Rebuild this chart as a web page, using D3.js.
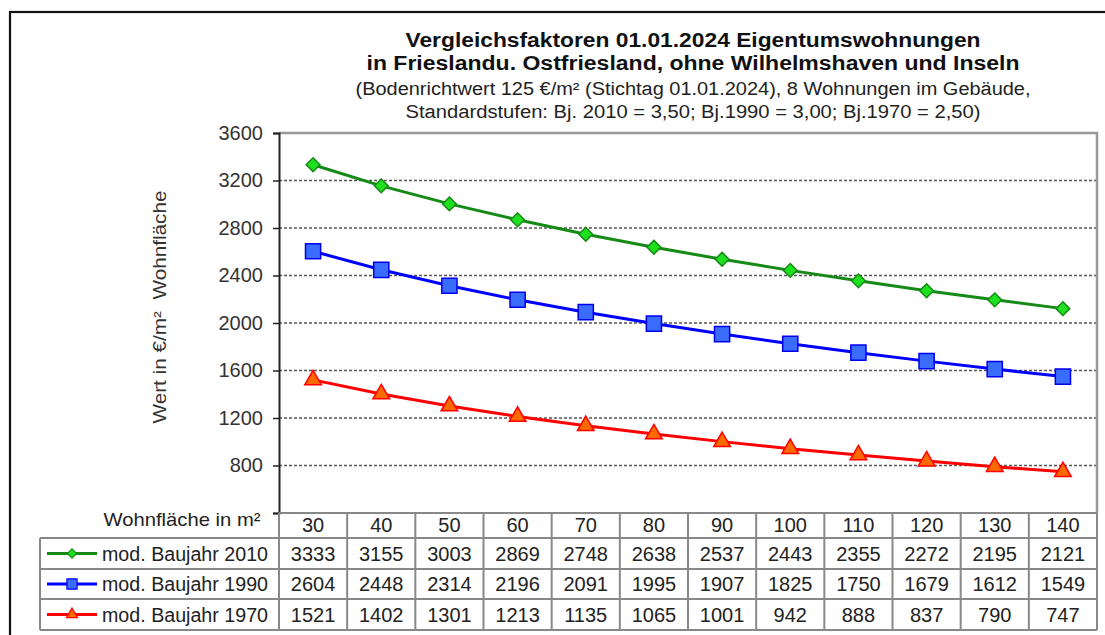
<!DOCTYPE html>
<html><head><meta charset="utf-8">
<script src="https://cdn.jsdelivr.net/npm/d3@7"></script>
<style>html,body{margin:0;padding:0;background:#fff;}svg{display:block;font-family:"Liberation Sans",Arial,sans-serif;}</style>
</head><body>
<script>
const categories = [30,40,50,60,70,80,90,100,110,120,130,140];
const bj2010 = [3333,3155,3003,2869,2748,2638,2537,2443,2355,2272,2195,2121];
const bj1990 = [2604,2448,2314,2196,2091,1995,1907,1825,1750,1679,1612,1549];
const bj1970 = [1521,1402,1301,1213,1135,1065,1001,942,888,837,790,747];
const seriesNames = ["mod. Baujahr 2010","mod. Baujahr 1990","mod. Baujahr 1970"];
const yTicks = [400,800,1200,1600,2000,2400,2800,3200,3600];
const titleLines = ["Vergleichsfaktoren 01.01.2024 Eigentumswohnungen","in Frieslandu. Ostfriesland, ohne Wilhelmshaven und Inseln"];
const subtitleLines = ["(Bodenrichtwert 125 €/m² (Stichtag 01.01.2024), 8 Wohnungen im Gebäude,","Standardstufen:  Bj. 2010 = 3,50; Bj.1990 = 3,00; Bj.1970 = 2,50)"];

const W=1105,H=635;
const svg=d3.select("body").append("svg").attr("width",W).attr("height",H);
svg.append("rect").attr("width",W).attr("height",H).attr("fill","#fff");
// outer frame
svg.append("rect").attr("x",10).attr("y",12).attr("width",1200).attr("height",700)
  .attr("fill","none").attr("stroke","#111").attr("stroke-width",2.2);

const L=279,R=1097,T=133,B=513;
const x=d3.scaleBand().domain(categories).range([L,R]);
const y=d3.scaleLinear().domain([400,3600]).range([B,T]);

// titles
const tg=svg.append("g").attr("text-anchor","middle").attr("fill","#111");
const titleLen=[575,653], subLen=[675,575];
tg.selectAll("text.t").data(titleLines).join("text").attr("class","t")
  .attr("x",693).attr("y",(d,i)=>47+i*23).attr("font-size",20).attr("font-weight","bold")
  .attr("textLength",(d,i)=>titleLen[i]).attr("lengthAdjust","spacingAndGlyphs").text(d=>d);
tg.selectAll("text.s").data(subtitleLines).join("text").attr("class","s")
  .attr("x",693).attr("y",(d,i)=>95+i*23).attr("font-size",18).attr("fill","#222")
  .attr("textLength",(d,i)=>subLen[i]).attr("lengthAdjust","spacingAndGlyphs").text(d=>d);

// gridlines
svg.append("g").selectAll("line").data(yTicks.filter(v=>v>400&&v<3600)).join("line")
  .attr("x1",L).attr("x2",R).attr("y1",d=>y(d)).attr("y2",d=>y(d))
  .attr("stroke","#555").attr("stroke-width",1.5).attr("stroke-dasharray","3,2");
// plot frame top/right
svg.append("path").attr("d",`M${L},${T}H${R}V${B}`).attr("fill","none").attr("stroke","#999").attr("stroke-width",2.5);

// y axis
const ya=d3.axisLeft(y).tickValues(yTicks).tickSize(6).tickFormat(d=>d===400?"":d);
const yg=svg.append("g").attr("transform",`translate(${L},0)`).call(ya);
yg.select(".domain").attr("stroke","#222").attr("stroke-width",2);
yg.selectAll(".tick line").attr("stroke","#222").attr("stroke-width",1.5);
yg.selectAll(".tick text").attr("font-size",20).attr("fill","#333").attr("x",-16)
  .attr("font-family","Liberation Sans, Arial, sans-serif");

svg.append("text").attr("transform",`translate(166,307) rotate(-90)`).attr("text-anchor","middle")
  .attr("font-size",18).attr("fill","#333").attr("xml:space","preserve")
  .attr("textLength",233).attr("lengthAdjust","spacingAndGlyphs").text("Wert in €/m²  Wohnfläche");

// custom diamond (square rotated)
const diamond={draw(ctx,size){const r=Math.sqrt(size/2);ctx.moveTo(0,-r);ctx.lineTo(r,0);ctx.lineTo(0,r);ctx.lineTo(-r,0);ctx.closePath();}};
// series
const series=[
  {name:seriesNames[0],vals:bj2010,line:"#168a16",fill:"#1ee01e",stroke:"#168a16",shape:diamond,size:95},
  {name:seriesNames[1],vals:bj1990,line:"#0000ff",fill:"#3a6cff",stroke:"#0000ee",shape:d3.symbolSquare,size:230},
  {name:seriesNames[2],vals:bj1970,line:"#ff0000",fill:"#ff6a00",stroke:"#ff0000",shape:d3.symbolTriangle,size:120},
];
const cx=c=>x(c)+x.bandwidth()/2;
const lineGen=d3.line().x((d,i)=>cx(categories[i])).y(d=>y(d));
series.forEach(s=>{
  svg.append("path").attr("d",lineGen(s.vals)).attr("fill","none").attr("stroke",s.line).attr("stroke-width",3);
  svg.append("g").selectAll("path").data(s.vals).join("path")
    .attr("transform",(d,i)=>`translate(${cx(categories[i])},${y(d)})`)
    .attr("d",d3.symbol().type(s.shape).size(s.size)).attr("fill",s.fill).attr("stroke",s.stroke).attr("stroke-width",1.5);
});

// table
const rowsY=[513,538,569,599,630];
const tb=svg.append("g");
const gridC="#888";
tb.append("text").attr("x",182).attr("y",526).attr("text-anchor","middle").attr("font-size",19).attr("fill","#222")
  .attr("textLength",157).attr("lengthAdjust","spacingAndGlyphs").text("Wohnfläche in m²");
tb.append("line").attr("x1",L).attr("x2",R).attr("y1",rowsY[0]).attr("y2",rowsY[0]).attr("stroke",gridC).attr("stroke-width",2);
rowsY.slice(1).forEach(yy=>tb.append("line").attr("x1",40).attr("x2",R).attr("y1",yy).attr("y2",yy).attr("stroke",gridC).attr("stroke-width",2));
tb.append("line").attr("x1",40).attr("x2",40).attr("y1",rowsY[1]).attr("y2",rowsY[4]).attr("stroke",gridC).attr("stroke-width",2);
categories.forEach(c=>tb.append("line").attr("x1",x(c)).attr("x2",x(c)).attr("y1",rowsY[0]).attr("y2",rowsY[4]).attr("stroke",gridC).attr("stroke-width",2));
tb.append("line").attr("x1",R).attr("x2",R).attr("y1",rowsY[0]).attr("y2",rowsY[4]).attr("stroke",gridC).attr("stroke-width",2);
tb.selectAll("text.h").data(categories).join("text").attr("class","h")
  .attr("x",d=>cx(d)).attr("y",532).attr("text-anchor","middle").attr("font-size",20).attr("fill","#222").text(d=>d);
series.forEach((s,r)=>{
  const ymid=(rowsY[r+1]+rowsY[r+2])/2;
  tb.selectAll("text.v"+r).data(s.vals).join("text").attr("class","v"+r)
    .attr("x",(d,i)=>cx(categories[i])).attr("y",ymid+7).attr("text-anchor","middle").attr("font-size",20).attr("fill","#222").text(d=>d);
  tb.append("line").attr("x1",47).attr("x2",97).attr("y1",ymid).attr("y2",ymid).attr("stroke",s.line).attr("stroke-width",3);
  tb.append("path").attr("transform",`translate(72,${ymid})`).attr("d",d3.symbol().type(s.shape).size(s.size*0.45))
    .attr("fill",s.fill).attr("stroke",s.stroke).attr("stroke-width",1.2);
  tb.append("text").attr("x",102).attr("y",ymid+7).attr("font-size",20).attr("fill","#222")
    .attr("textLength",166).attr("lengthAdjust","spacingAndGlyphs").text(s.name);
});
</script>
</body></html>
